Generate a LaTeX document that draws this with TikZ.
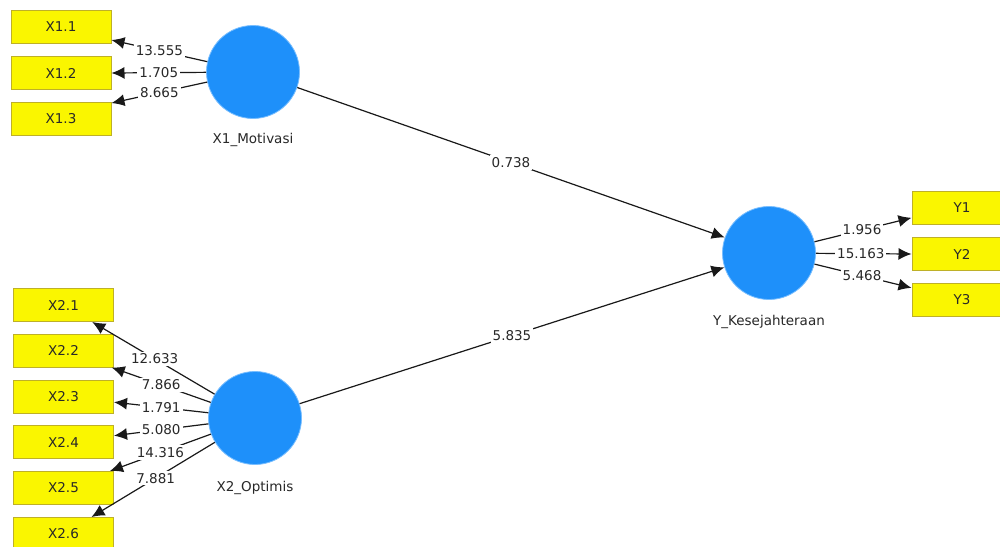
\documentclass[tikz,border=0pt]{standalone}
\usepackage{fontspec}
\setmainfont{DejaVu Sans}
\usetikzlibrary{arrows.meta}
\definecolor{boxfill}{RGB}{250,246,0}
\definecolor{boxline}{RGB}{190,176,40}
\definecolor{lvblue}{RGB}{30,144,250}
\definecolor{lvrim}{RGB}{120,190,255}
\definecolor{txt}{RGB}{40,40,40}
\tikzset{
  ind/.style={draw=boxline, line width=1pt, fill=boxfill, minimum width=100pt, minimum height=33pt, inner sep=0pt, text=txt, font=\fontsize{13.5}{14}\selectfont},
  lv/.style={circle, draw=lvrim, line width=0.8pt, fill=lvblue, minimum size=93pt, inner sep=0pt},
  lvname/.style={text=txt, font=\fontsize{13.5}{14}\selectfont},
  conn/.style={draw=black!90, line width=1.2pt, -{Latex[length=13pt, width=12pt]}},
  lbl/.style={fill=white, inner sep=2pt, text=txt, font=\fontsize{13.5}{14}\selectfont}
}
\begin{document}
\begin{tikzpicture}[x=1pt, y=-1pt]
\useasboundingbox (0,0) rectangle (1000,546);
\clip (0,0) rectangle (1000,546);
\fill[white] (0,0) rectangle (1000,546);
% indicators
\node[ind] (x11) at (61,26.5) {X1.1};
\node[ind] (x12) at (61,73) {X1.2};
\node[ind] (x13) at (61,118.5) {X1.3};
\node[ind] (x21) at (63.5,305) {X2.1};
\node[ind] (x22) at (63.5,350.5) {X2.2};
\node[ind] (x23) at (63.5,396.5) {X2.3};
\node[ind] (x24) at (63.5,442) {X2.4};
\node[ind] (x25) at (63.5,488) {X2.5};
\node[ind] (x26) at (63.5,534) {X2.6};
\node[ind] (y1) at (962,208) {Y1};
\node[ind] (y2) at (962,254) {Y2};
\node[ind] (y3) at (962,299.5) {Y3};
% latent variables
\node[lv] (x1) at (253,72) {};
\node[lv] (x2) at (255,418) {};
\node[lv] (y) at (769,253) {};
\node[lvname] (x1n) at (253,140) {X1\_Motivasi};
\node[lvname] (x2n) at (255,488) {X2\_Optimis};
\node[lvname] (yn) at (769,322) {Y\_Kesejahteraan};
% outer loadings
\draw[conn] (x1) -- node[lbl, pos=0.5] {13.555} (x11.-15);
\draw[conn] (x1) -- node[lbl, pos=0.5] {1.705} (x12.east);
\draw[conn] (x1) -- node[lbl, pos=0.5] {8.665} (x13.17);
\draw[conn] (x2) -- node[lbl, pos=0.49] {12.633} (x21);
\draw[conn] (x2) -- node[lbl, pos=0.5] {7.866} (x22);
\draw[conn] (x2) -- node[lbl, pos=0.5] {1.791} (x23);
\draw[conn] (x2) -- node[lbl, pos=0.5] {5.080} (x24);
\draw[conn] (x2) -- node[lbl, pos=0.5] {14.316} (x25);
\draw[conn] (x2) -- node[lbl, pos=0.48] {7.881} (x26);
\draw[conn] (y) -- node[lbl, pos=0.49] {1.956} (y1.191);
\draw[conn] (y) -- node[lbl, pos=0.47] {15.163} (y2.west);
\draw[conn] (y) -- node[lbl, pos=0.49] {5.468} (y3.167);
% path coefficients
\draw[conn] (x1) -- node[lbl, pos=0.5] {0.738} (y);
\draw[conn] (x2) -- node[lbl, pos=0.5] {5.835} (y);
\end{tikzpicture}
\end{document}
